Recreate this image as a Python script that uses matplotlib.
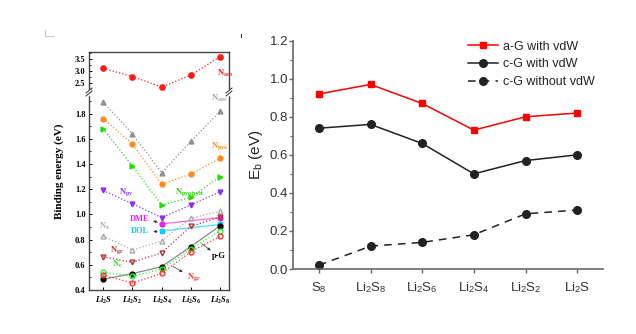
import matplotlib

matplotlib.use("Agg")
import matplotlib.pyplot as plt
from matplotlib.lines import Line2D
from matplotlib.patches import Rectangle
from matplotlib.ticker import MultipleLocator, FormatStrFormatter

plt.rcParams["font.family"] = ["Liberation Sans", "DejaVu Sans"]
plt.rcParams["mathtext.fontset"] = "custom"
plt.rcParams["mathtext.rm"] = "Liberation Serif:bold"
plt.rcParams["mathtext.it"] = "Liberation Serif:italic:bold"
plt.rcParams["mathtext.sf"] = "Liberation Sans"

# ---- right panel data ----
species = [r"S$_\mathsf{8}$", r"Li$_\mathsf{2}$S$_\mathsf{8}$", r"Li$_\mathsf{2}$S$_\mathsf{6}$",
           r"Li$_\mathsf{2}$S$_\mathsf{4}$", r"Li$_\mathsf{2}$S$_\mathsf{2}$", r"Li$_\mathsf{2}$S"]
ag_vdw = [0.92, 0.97, 0.87, 0.73, 0.80, 0.82]
cg_vdw = [0.74, 0.76, 0.66, 0.50, 0.57, 0.60]
cg_novdw = [0.02, 0.12, 0.14, 0.18, 0.29, 0.31]

# ---- left panel data ----
left_species = [r"$\mathit{Li_2S}$", r"$\mathit{Li_2S_2}$", r"$\mathit{Li_2S_4}$",
                r"$\mathit{Li_2S_6}$", r"$\mathit{Li_2S_8}$"]
n_aro = [3.11, 2.77, 2.33, 2.83, 3.60]
n_gray = [1.89, 1.64, 1.33, 1.58, 1.82]
n_orange = [1.76, 1.56, 1.24, 1.32, 1.445]
n_green = [1.68, 1.385, 1.075, 1.135, 1.30]
n_purple = [1.19, 1.085, 0.975, 1.075, 1.18]
dme_idx = [2, 4]
dme = [0.925, 0.975]
dol_idx = [2, 4]
dol = [0.868, 0.92]
n_x = [0.83, 0.717, 0.789, 0.97, 1.025]
n_dark = [0.664, 0.62, 0.695, 0.905, 0.98]
p_g = [0.485, 0.53, 0.585, 0.745, 0.91]
n_c = [0.54, 0.51, 0.565, 0.725, 0.87]
n_red = [0.52, 0.455, 0.532, 0.704, 0.825]

fig = plt.figure(figsize=(6.36, 3.34), dpi=100, facecolor="white")

# ================= left panel (broken axis) =================
W, H = 636.0, 334.0


def box(x0, y0, x1, y1):
    return [x0 / W, 1 - y1 / H, (x1 - x0) / W, (y1 - y0) / H]


top = fig.add_axes(box(89, 52, 229, 92))
low = fig.add_axes(box(89, 92, 229, 290))
serif = dict(family="Liberation Serif", weight="bold")
xi = range(len(left_species))

top.plot(xi, n_aro, ls=":", lw=0.9, color="#ff1a1a", marker="o", ms=3.8)
top.set_ylim(2.125, 3.79)
top.set_yticks([2.5, 3.0, 3.5])
top.yaxis.set_minor_locator(MultipleLocator(0.25))
top.spines["bottom"].set_visible(False)
top.set_xticks([])
top.text(3.88, 3.14, r"N$_\mathrm{aro}$", color="#ff1a1a", fontsize=6, **serif, va="top")

dotted = dict(ls=":", lw=0.9)
ms = 3.5
low.plot(xi, n_gray, color="#909090", marker="^", ms=ms, **dotted)
low.plot(xi, n_orange, color="#ff8a1c", marker="o", ms=ms, **dotted)
low.plot(xi, n_green, color="#22dd00", marker=">", ms=ms, **dotted)
low.plot(xi, n_purple, color="#8833ee", marker="v", ms=ms, **dotted)
low.plot(dme_idx, dme, color="#ff66ee", lw=0.9, marker="o", ms=ms, mfc="#ee22dd", mec="#ee22dd")
low.plot(dol_idx, dol, color="#44ddff", lw=0.9, marker="s", ms=ms, mfc="#00ccff", mec="#00ccff")
low.plot(xi, n_x, color="#aaaaaa", marker="^", ms=ms, mfc="none", **dotted)
low.plot(xi, n_dark, color="#b03535", marker="v", ms=ms, mfc="none", **dotted)
low.plot(xi, p_g, color="#888888", lw=0.9, marker="o", ms=ms, mfc="black", mec="black")
low.plot(xi, n_c, color="#33ee33", marker="o", ms=ms, mfc="none", **dotted)
low.plot(xi, n_red, color="#ff3030", marker="o", ms=ms, mfc="none", **dotted)
low.set_ylim(0.4, 1.971)
low.set_yticks([0.4, 0.6, 0.8, 1.0, 1.2, 1.4, 1.6, 1.8])
low.yaxis.set_minor_locator(MultipleLocator(0.1))
low.spines["top"].set_visible(False)
low.set_xticks(list(xi))
low.set_xticklabels(left_species, fontsize=6.5)

for a in (top, low):
    a.set_xlim(-0.48, 4.3)
    a.tick_params(direction="in", length=2.5, width=0.7, labelsize=6, pad=2.5)
    a.tick_params(which="minor", direction="in", length=1.4, width=0.6)
    a.tick_params(axis="y", right=False)
    for lab in a.get_yticklabels():
        lab.set_fontfamily("Liberation Serif")
        lab.set_fontweight("bold")
    for s in a.spines.values():
        s.set_linewidth(1.0)
        s.set_color("#444444")
low.tick_params(axis="x", pad=3.5)
low.set_ylabel("Binding energy (eV)", fontsize=8, **serif)
low.yaxis.set_label_coords(-0.175, 0.6)

lab = dict(fontsize=6, **serif)
low.text(3.68, 1.9, r"N$_\mathrm{aro}$", color="#a0a0a0", **lab)
low.text(3.68, 1.53, r"N$_\mathrm{pyo}$", color="#ff8a1c", **lab)
low.text(2.45, 1.16, r"N$_\mathrm{pyo/pyri}$", color="#22cc00", **lab)
low.text(0.55, 1.16, r"N$_\mathrm{py}$", color="#8833ee", **lab)
low.text(0.9, 0.945, "DME", color="#ee22dd", **lab)
low.text(0.95, 0.85, "DOL", color="#00ccff", **lab)
low.text(-0.15, 0.885, r"N$_\mathrm{x}$", color="#aaaaaa", **lab)
low.text(0.25, 0.70, r"N$_\mathrm{gr}$", color="#b03535", **lab)
low.text(0.3, 0.585, r"N$_\mathrm{c}$", color="#22dd22", **lab)
low.text(2.85, 0.485, r"N$_\mathrm{gr}$", color="#ff3030", **lab)
low.text(3.7, 0.655, "p-G", color="black", **lab)
arrow = dict(arrowstyle="-|>", lw=0.5, color="#333333", mutation_scale=4)
low.annotate("", xy=(1.62, 0.955), xytext=(1.95, 0.93), arrowprops=arrow)
low.annotate("", xy=(1.62, 0.86), xytext=(1.95, 0.868), arrowprops=arrow)
low.annotate("", xy=(3.75, 0.7), xytext=(3.3, 0.78), arrowprops=arrow)
low.annotate("", xy=(2.8, 0.53), xytext=(2.3, 0.6), arrowprops=arrow)

# break marks on both spines
for px in (89, 229):
    fig.add_artist(Rectangle(((px - 3) / W, 1 - 95 / H), 6 / W, 5 / H, color="white", zorder=10))
    for dy in (-1.5, 1.5):
        fig.add_artist(Line2D([(px - 3) / W, (px + 3) / W],
                              [1 - (92 + dy + 2.5) / H, 1 - (92 + dy - 2.5) / H],
                              color="#333333", lw=0.7, zorder=11))

# small crop marks left over from the source figure
fig.add_artist(Line2D([45 / W, 45 / W, 53 / W], [1 - 30 / H, 1 - 36 / H, 1 - 36 / H],
                      color="#c8c8c8", lw=0.8))
fig.add_artist(Line2D([241 / W, 241 / W], [1 - 34 / H, 1 - 37 / H], color="#333333", lw=0.8))

# ================= right panel =================
ax = fig.add_axes(box(293, 40.7, 603, 269))
x = range(len(species))
ax.plot(x, ag_vdw, color="#ff0000", lw=1.1, marker="s", ms=5, label="a-G with vdW")
ax.plot(x, cg_vdw, color="#222222", lw=1.1, marker="o", ms=5.5, label="c-G with vdW")
ax.plot(x, cg_novdw, color="#222222", lw=1.1, ls=(0, (5, 4)), marker="o", ms=5.5,
        label="c-G without vdW")
ax.set_xlim(-0.5, 5.5)
ax.set_ylim(0, 1.2)
ax.set_xticks(list(x))
ax.set_xticklabels(species)
ax.yaxis.set_major_locator(MultipleLocator(0.2))
ax.yaxis.set_minor_locator(MultipleLocator(0.1))
ax.yaxis.set_major_formatter(FormatStrFormatter("%.1f"))
for side in ("top", "right"):
    ax.spines[side].set_visible(False)
for side in ("left", "bottom"):
    ax.spines[side].set_color("#666666")
    ax.spines[side].set_linewidth(1.2)
ax.tick_params(direction="out", length=3, width=1, color="#666666", labelsize=9.5,
               labelcolor="#333333", pad=0.5)
ax.tick_params(which="minor", direction="out", length=2, width=0.8, color="#666666")
ax.tick_params(axis="x", pad=5)
ax.set_ylabel(r"E$_\mathsf{b}$ (eV)", fontsize=11, color="#222222", labelpad=3)
ax.legend(loc="upper left", bbox_to_anchor=(459 / W, 1 - 32 / H), bbox_transform=fig.transFigure,
          frameon=False, fontsize=9, handlelength=2.4, handletextpad=0.4, labelspacing=0.45,
          borderpad=0.2, labelcolor="#222222")

fig.savefig("out.png", dpi=100, facecolor="white")
